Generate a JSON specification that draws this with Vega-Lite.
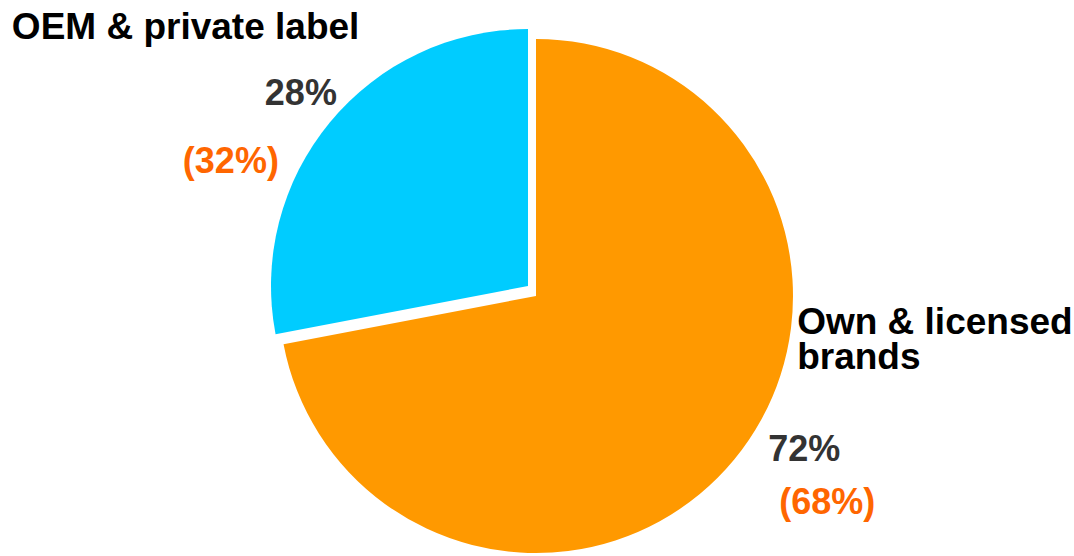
{
  "$schema": "https://vega.github.io/schema/vega-lite/v6.json",
  "width": 1072,
  "height": 520,
  "autosize": {"type": "none"},
  "padding": {"top": 36, "bottom": 0, "left": 0, "right": 2},
  "background": "white",
  "view": {"stroke": null},
  "data": {
    "values": [
      {"segment": "Own & licensed brands", "label": "Own & licensed\nbrands", "share": 0.72, "priorLabel": "(68%)", "order": 1},
      {"segment": "OEM & private label", "label": "OEM & private label", "share": 0.28, "priorLabel": "(32%)", "order": 2}
    ]
  },
  "encoding": {
    "theta": {"field": "share", "type": "quantitative", "stack": true},
    "order": {"field": "order", "type": "quantitative"},
    "detail": {"field": "segment", "type": "nominal"}
  },
  "layer": [
    {
      "mark": {"type": "arc", "radius": 257},
      "encoding": {
        "color": {"field": "segment", "type": "nominal", "scale": {"domain": ["Own & licensed brands", "OEM & private label"], "range": ["#FF9900", "#00CCFF"]}, "legend": null},
        "opacity": {"condition": {"test": "datum.segment === 'OEM & private label'", "value": 0}, "value": 1}
      }
    },
    {
      "mark": {"type": "arc", "radius": 257, "xOffset": -8, "yOffset": -10},
      "encoding": {
        "color": {"field": "segment", "type": "nominal", "legend": null},
        "opacity": {"condition": {"test": "datum.segment === 'OEM & private label'", "value": 1}, "value": 0}
      }
    },
    {
      "mark": {"type": "text", "radius": 300, "font": "Liberation Sans", "fontSize": 37, "fontWeight": "bold", "align": "left", "baseline": "alphabetic", "color": "#000000", "dx": -293, "dy": -66},
      "encoding": {"text": {"condition": {"test": "datum.segment === 'OEM & private label'", "field": "label"}, "value": ""}}
    },
    {
      "mark": {"type": "text", "radius": 300, "font": "Liberation Sans", "fontSize": 36, "fontWeight": "bold", "align": "left", "baseline": "alphabetic", "color": "#333333", "dx": -40, "dy": 0},
      "encoding": {"text": {"condition": {"test": "datum.segment === 'OEM & private label'", "field": "share", "type": "quantitative", "format": ".0%"}, "value": ""}}
    },
    {
      "mark": {"type": "text", "radius": 300, "font": "Liberation Sans", "fontSize": 36, "fontWeight": "bold", "align": "left", "baseline": "alphabetic", "color": "#FF6600", "dx": -122, "dy": 68},
      "encoding": {"text": {"condition": {"test": "datum.segment === 'OEM & private label'", "field": "priorLabel"}, "value": ""}}
    },
    {
      "mark": {"type": "text", "radius": 300, "font": "Liberation Sans", "fontSize": 37, "fontWeight": "bold", "align": "left", "baseline": "alphabetic", "color": "#000000", "dx": 30, "dy": -153, "lineBreak": "\n", "lineHeight": 35},
      "encoding": {"text": {"condition": {"test": "datum.segment === 'Own & licensed brands'", "field": "label"}, "value": ""}}
    },
    {
      "mark": {"type": "text", "radius": 300, "font": "Liberation Sans", "fontSize": 36, "fontWeight": "bold", "align": "left", "baseline": "alphabetic", "color": "#333333", "dx": 1, "dy": -26},
      "encoding": {"text": {"condition": {"test": "datum.segment === 'Own & licensed brands'", "field": "share", "type": "quantitative", "format": ".0%"}, "value": ""}}
    },
    {
      "mark": {"type": "text", "radius": 300, "font": "Liberation Sans", "fontSize": 36, "fontWeight": "bold", "align": "left", "baseline": "alphabetic", "color": "#FF6600", "dx": 12, "dy": 27},
      "encoding": {"text": {"condition": {"test": "datum.segment === 'Own & licensed brands'", "field": "priorLabel"}, "value": ""}}
    }
  ]
}
